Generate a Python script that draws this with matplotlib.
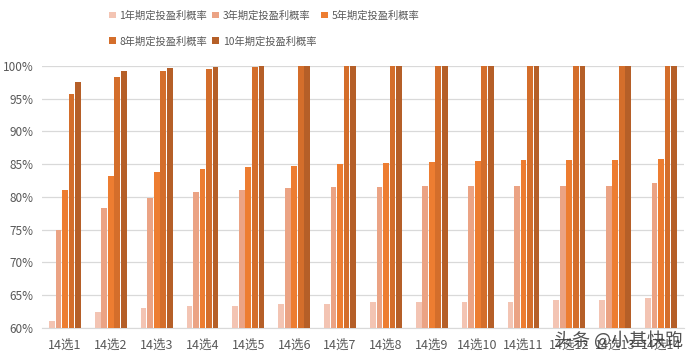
import matplotlib
matplotlib.use("Agg")
import matplotlib.pyplot as plt
import numpy as np
from matplotlib.ticker import PercentFormatter

plt.rcParams['font.family'] = ['Noto Sans CJK SC', 'DejaVu Sans']

categories = [f"14选{i}" for i in range(1, 15)]
series_names = ["1年期定投盈利概率", "3年期定投盈利概率", "5年期定投盈利概率",
                "8年期定投盈利概率", "10年期定投盈利概率"]
y1 = [61.0, 62.4, 63.0, 63.3, 63.4, 63.6, 63.7, 63.9, 64.0, 64.0, 64.0, 64.2, 64.3, 64.5]
y3 = [74.9, 78.3, 79.9, 80.7, 81.0, 81.4, 81.5, 81.5, 81.7, 81.7, 81.7, 81.7, 81.7, 82.1]
y5 = [81.0, 83.2, 83.8, 84.2, 84.5, 84.7, 85.0, 85.2, 85.3, 85.5, 85.7, 85.7, 85.7, 85.8]
y8 = [95.8, 98.3, 99.2, 99.5, 99.9, 100, 100, 100, 100, 100, 100, 100, 100, 100]
y10 = [97.6, 99.2, 99.7, 99.9, 100, 100, 100, 100, 100, 100, 100, 100, 100, 100]
series = [y1, y3, y5, y8, y10]
colors = ["#F3C4B3", "#EBA384", "#ED7D31", "#D46E2B", "#B55F28"]

fig = plt.figure(figsize=(6.92, 3.59), dpi=100)
ax = fig.add_axes([42/692, 0.087, (684-42)/692, 0.816-0.087])

x = np.arange(len(categories))
step = 0.143
w = 0.125
handles = []
for i, (vals, c, name) in enumerate(zip(series, colors, series_names)):
    b = ax.bar(x + (i - 2) * step, np.array(vals) / 100, width=w, color=c, label=name, zorder=3)
    handles.append(b)

ax.set_ylim(0.6, 1.0)
ax.set_xlim(-0.5, len(categories) - 0.5)
ax.set_yticks(np.arange(0.60, 1.001, 0.05))
ax.yaxis.set_major_formatter(PercentFormatter(1.0, decimals=0))
ax.set_xticks(x)
ax.set_xticklabels(categories)
ax.grid(axis='y', color='#D9D9D9', linewidth=0.9, zorder=0)
for s in ['top', 'right', 'left']:
    ax.spines[s].set_visible(False)
ax.spines['bottom'].set_color('#D9D9D9')
ax.tick_params(axis='both', length=0, colors='#595959')
ax.tick_params(axis='y', labelsize=8.5, pad=6)
ax.tick_params(axis='x', labelsize=9, pad=8)

order = [0, 3, 1, 4, 2]
fig.legend([handles[i] for i in order], [series_names[i] for i in order],
           loc='upper left', bbox_to_anchor=(100/692, 0.997), ncol=3, frameon=False,
           fontsize=7.4, handlelength=0.65, handleheight=0.65, handletextpad=0.35,
           columnspacing=0.5, labelspacing=1.5, labelcolor='#595959')

fig.text(0.987, 0.025, "头条 @小基快跑", ha='right', va='bottom', fontsize=13,
         color='#333333', alpha=0.85)

fig.savefig("out.png", dpi=100)
